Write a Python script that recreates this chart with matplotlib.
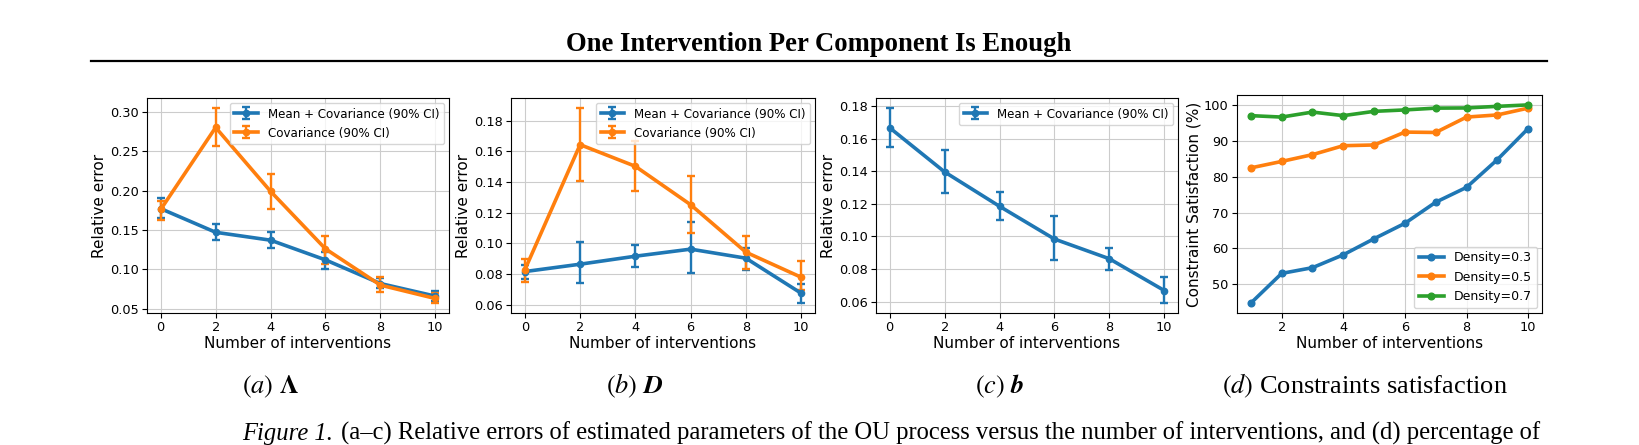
import numpy as np
import matplotlib
matplotlib.use("Agg")
import matplotlib.pyplot as plt

# ---- data ----
n_int = [0, 2, 4, 6, 8, 10]

# (a) Lambda
lam_mc = [0.177, 0.147, 0.137, 0.112, 0.082, 0.066]
lam_mc_lo = [0.165, 0.137, 0.127, 0.101, 0.076, 0.060]
lam_mc_hi = [0.190, 0.158, 0.147, 0.122, 0.089, 0.072]
lam_cov = [0.176, 0.280, 0.199, 0.126, 0.080, 0.063]
lam_cov_lo = [0.163, 0.256, 0.177, 0.107, 0.071, 0.057]
lam_cov_hi = [0.187, 0.305, 0.221, 0.142, 0.090, 0.070]

# (b) D
d_mc = [0.0817, 0.0865, 0.0917, 0.0963, 0.0904, 0.0676]
d_mc_lo = [0.077, 0.0741, 0.085, 0.0806, 0.0824, 0.0611]
d_mc_hi = [0.086, 0.1009, 0.0987, 0.1137, 0.0970, 0.0733]
d_cov = [0.0828, 0.1643, 0.1502, 0.1252, 0.0943, 0.078]
d_cov_lo = [0.0752, 0.1404, 0.1339, 0.1070, 0.0837, 0.0700]
d_cov_hi = [0.0900, 0.1883, 0.1667, 0.1441, 0.1046, 0.0883]

# (c) b
b_mc = [0.1667, 0.1396, 0.1185, 0.0984, 0.0863, 0.0668]
b_mc_lo = [0.155, 0.1267, 0.1103, 0.0856, 0.0796, 0.0590]
b_mc_hi = [0.179, 0.1533, 0.1272, 0.1123, 0.0929, 0.0748]

# (d) constraint satisfaction
n_int_d = [1, 2, 3, 4, 5, 6, 7, 8, 9, 10]
dens_03 = [44.7, 53.0, 54.6, 58.2, 62.7, 67.0, 72.9, 77.05, 84.8, 93.5]
dens_05 = [82.5, 84.3, 86.2, 88.7, 88.9, 92.5, 92.4, 96.7, 97.3, 99.2]
dens_07 = [97.1, 96.7, 98.1, 97.1, 98.3, 98.7, 99.2, 99.25, 99.7, 100.1]

W, H = 1639, 445
fig = plt.figure(figsize=(W / 100, H / 100), dpi=100)
plt.rcParams["mathtext.fontset"] = "stix"

TICK = 9.3
LEG = 8.6
LAB = 11
LW = 2.6


def box(l, r, t, b):
    return [l / W, (H - b) / H, (r - l) / W, (b - t) / H]


def err_panel(ax, series):
    for y, lo, hi, lab, c in series:
        y = np.asarray(y)
        yerr = [y - np.asarray(lo), np.asarray(hi) - y]
        ax.errorbar(n_int, y, yerr=yerr, label=lab, color=c, lw=LW,
                    marker="o", ms=4.5, elinewidth=1.7, capsize=2.8, capthick=1.7)
    ax.grid(True, color="#cccccc", lw=0.8)
    ax.set_xticks([0, 2, 4, 6, 8, 10])
    ax.tick_params(labelsize=TICK, pad=2.5)
    ax.set_xlabel("Number of interventions", fontsize=LAB, labelpad=1)
    ax.set_ylabel("Relative error", fontsize=LAB, labelpad=2)
    ax.legend(loc="upper right", fontsize=LEG, borderaxespad=0.4)


ax1 = fig.add_axes(box(147, 449, 98, 313))
err_panel(ax1, [(lam_mc, lam_mc_lo, lam_mc_hi, "Mean + Covariance (90% CI)", "tab:blue"),
                (lam_cov, lam_cov_lo, lam_cov_hi, "Covariance (90% CI)", "tab:orange")])

ax2 = fig.add_axes(box(511, 815, 98, 313))
err_panel(ax2, [(d_mc, d_mc_lo, d_mc_hi, "Mean + Covariance (90% CI)", "tab:blue"),
                (d_cov, d_cov_lo, d_cov_hi, "Covariance (90% CI)", "tab:orange")])

ax3 = fig.add_axes(box(876, 1178, 98, 313))
err_panel(ax3, [(b_mc, b_mc_lo, b_mc_hi, "Mean + Covariance (90% CI)", "tab:blue")])

ax4 = fig.add_axes(box(1237, 1542, 95, 313))
for y, lab, c in [(dens_03, "Density=0.3", "tab:blue"),
                  (dens_05, "Density=0.5", "tab:orange"),
                  (dens_07, "Density=0.7", "tab:green")]:
    ax4.plot(n_int_d, y, marker="o", ms=4.8, lw=LW, color=c, label=lab)
ax4.grid(True, color="#cccccc", lw=0.8)
ax4.tick_params(labelsize=TICK, pad=2.5)
ax4.set_xlabel("Number of interventions", fontsize=LAB, labelpad=1)
ax4.set_ylabel("Constraint Satisfaction (%)", fontsize=LAB, labelpad=2)
ax4.legend(loc="lower right", fontsize=LEG + 0.4, borderaxespad=0.4)

# ---- page text ----
serif = "Liberation Serif"
CAP = 19

fig.text(819 / W, (H - 51) / H, "One Intervention Per Component Is Enough",
         ha="center", va="baseline", fontsize=19.2, fontweight="bold", family=serif)
fig.add_artist(plt.Line2D([91 / W, 1547 / W], [(H - 61) / H] * 2, color="black", lw=1.6))

cap_y = (H - 393) / H
fig.text(270 / W, cap_y, r"$\mathit{(a)}\ \mathbf{\Lambda}$", ha="center", va="baseline",
         fontsize=CAP, family=serif)
fig.text(635 / W, cap_y, r"$\mathit{(b)}\ \mathbfit{D}$", ha="center", va="baseline",
         fontsize=CAP, family=serif)
fig.text(1000 / W, cap_y, r"$\mathit{(c)}\ \mathbfit{b}$", ha="center", va="baseline",
         fontsize=CAP, family=serif)
fig.text(1365 / W, cap_y, r"$\mathit{(d)}$ Constraints satisfaction", ha="center",
         va="baseline", fontsize=CAP, family=serif)

# figure caption: italic label followed by upright text
FCAP = 17.7
fy = (H - 440) / H
t1 = fig.text(242 / W, fy, "Figure 1.", ha="left", va="baseline", fontsize=FCAP,
              family=serif, style="italic")
r = fig.canvas.get_renderer()
x_end = t1.get_window_extent(renderer=r).x1
fig.text((x_end + 8) / W, fy,
         "(a–c) Relative errors of estimated parameters of the OU "
         "process versus the number of interventions, and (d) percentage of",
         ha="left", va="baseline", fontsize=FCAP, family=serif)

fig.savefig("out.png", dpi=100)
